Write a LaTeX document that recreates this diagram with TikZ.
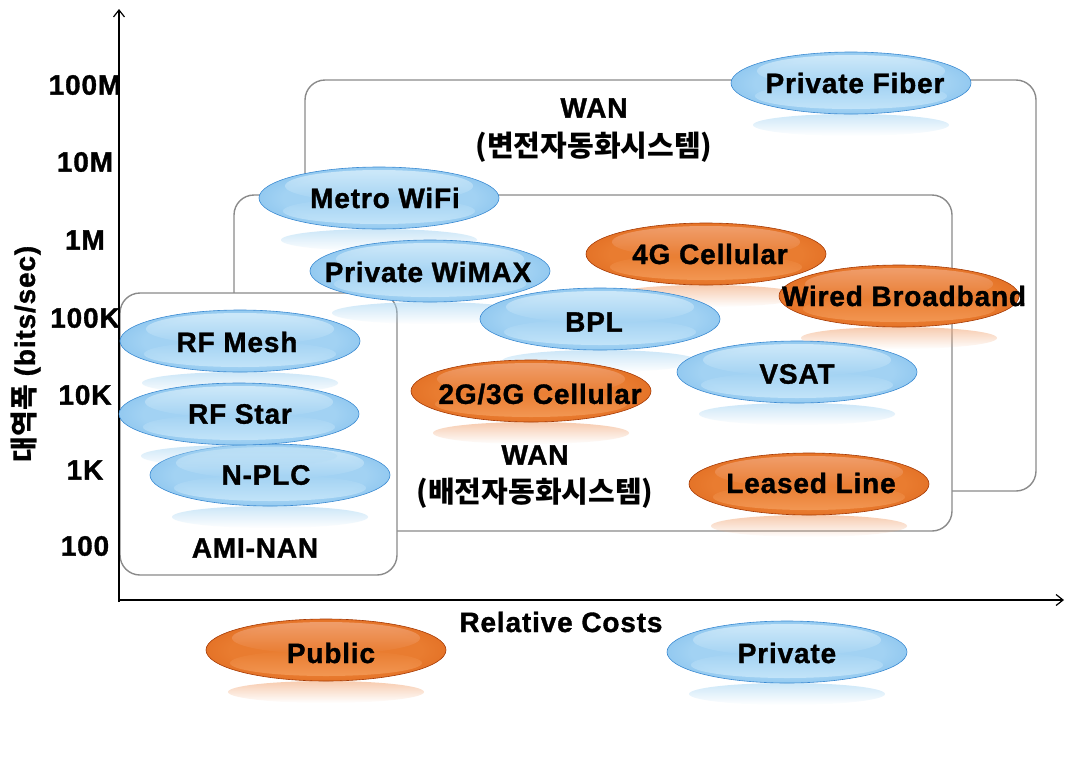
\documentclass[tikz,border=0pt]{standalone}
\usepackage{fontspec}
\setmainfont{Liberation Sans}[LetterSpace=3, BoldFeatures={FakeBold=1.2}]
\newfontfamily\kor{Noto Sans CJK KR}
\usetikzlibrary{fadings,arrows.meta}
\definecolor{brim}{HTML}{3A8AD2}
\definecolor{bmid}{HTML}{6CB2E8}
\definecolor{bin}{HTML}{A2D2F3}
\definecolor{bhi}{HTML}{DDF1FC}
\definecolor{blow}{HTML}{CBE9FB}
\definecolor{brefl}{HTML}{A9D6F3}
\definecolor{orim}{HTML}{A63A04}
\definecolor{omid}{HTML}{D85C12}
\definecolor{oin}{HTML}{E97C30}
\definecolor{ohi}{HTML}{F3AA80}
\definecolor{olow}{HTML}{F59E5C}
\definecolor{orefl}{HTML}{F2A878}
\definecolor{boxgray}{HTML}{8A8A8A}
\pgfdeclareradialshading{bgloss}{\pgfpoint{0bp}{0bp}}{color(0bp)=(bin); color(20bp)=(bin); color(38bp)=(bmid); color(50bp)=(brim)}
\pgfdeclareradialshading{ogloss}{\pgfpoint{0bp}{0bp}}{color(0bp)=(oin); color(20bp)=(oin); color(38bp)=(omid); color(50bp)=(orim)}
\tikzfading[name=fadedown, top color=transparent!0, bottom color=transparent!100]
\tikzfading[name=fadeup, top color=transparent!100, bottom color=transparent!0]
\tikzset{
  lab/.style={font=\bfseries\fontsize{28}{32}\selectfont, text=black, inner sep=0pt},
  klab/.style={font=\kor\bfseries\fontsize{29}{32}\selectfont, text=black, inner sep=0pt},
  boxst/.style={draw=boxgray, line width=1.4pt, rounded corners=20pt},
  axis/.style={draw=black, line width=1.6pt, -{Straight Barb[length=7pt,width=11pt,line width=1.2pt]}},
}
\newcommand\gl[7]{% name, x, y, b/o, text, text dx, text dy
  \fill[#4refl, opacity=.6, path fading=fadedown] (#2,#3+42) ellipse (98 and 11);
  \shade[shading=#4gloss, draw=#4rim, line width=0.6pt] (#2,#3) ellipse (120 and 31);
  \fill[#4low, opacity=.8, path fading=fadeup] (#2,#3+13) ellipse (96 and 13);
  \fill[#4hi, opacity=.75, path fading=fadedown] (#2,#3-12) ellipse (94 and 16);
  \node[lab] (#1) at (#2+#6,#3+#7) {#5};
}
\begin{document}
\begin{tikzpicture}[x=1pt,y=-1pt]
\useasboundingbox (0,0) rectangle (1074,764);
% boxes
\draw[boxst] (305,80) rectangle (1036,491);
\draw[boxst, fill=white] (234,195) rectangle (952,531);
\draw[boxst, fill=white] (120,293) rectangle (397,575);
% axes
\coordinate (O) at (119,602);
\coordinate (ytop) at (119,9);
\coordinate (xo) at (119,600);
\coordinate (xend) at (1064,600);
\draw[axis] (O) -- (ytop);
\draw[axis] (xo) -- (xend);
% tick labels
\node[lab] (t1) at (85,85) {100M};
\node[lab] (t2) at (85,162) {10M};
\node[lab] (t3) at (85,240) {1M};
\node[lab] (t4) at (85,318) {100K};
\node[lab] (t5) at (85,395) {10K};
\node[lab] (t6) at (85,470) {1K};
\node[lab] (t7) at (85,546) {100};
\node[lab, rotate=90] (ylab) at (26,354) {{\kor\bfseries 대역폭} (bits/sec)};
\node[lab] (xlab) at (561,622) {Relative Costs};
% region labels
\node[lab] (wan1) at (594,108) {WAN};
\node[klab] (wan1k) at (594,147) {(변전자동화시스템)};
\node[lab] (wan2) at (535,455) {WAN};
\node[klab] (wan2k) at (535,493) {(배전자동화시스템)};
\node[lab] (ami) at (255,548) {AMI-NAN};
% glossy ellipses
\gl{pf}{851}{83}{b}{Private Fiber}{4}{0}
\gl{mw}{379}{198}{b}{Metro WiFi}{6}{0}
\gl{pw}{430}{271}{b}{Private WiMAX}{-2}{1}
\gl{g4}{706}{254}{o}{4G Cellular}{4}{0}
\gl{wb}{899}{296}{o}{Wired Broadband}{5}{0}
\gl{bpl}{600}{319}{b}{BPL}{-6}{3}
\gl{vsat}{797}{372}{b}{VSAT}{0}{2}
\gl{rfm}{240}{341}{b}{RF Mesh}{-3}{1}
\gl{npl}{270}{475}{b}{N-PLC}{-4}{0}
\gl{rfs}{239}{414}{b}{RF Star}{1}{0}
\gl{g23}{531}{391}{o}{2G/3G Cellular}{9}{3}
\gl{ll}{809}{484}{o}{Leased Line}{2}{-1}
\gl{pub}{326}{650}{o}{Public}{5}{3}
\gl{prv}{787}{652}{b}{Private}{0}{1}
\end{tikzpicture}
\end{document}
